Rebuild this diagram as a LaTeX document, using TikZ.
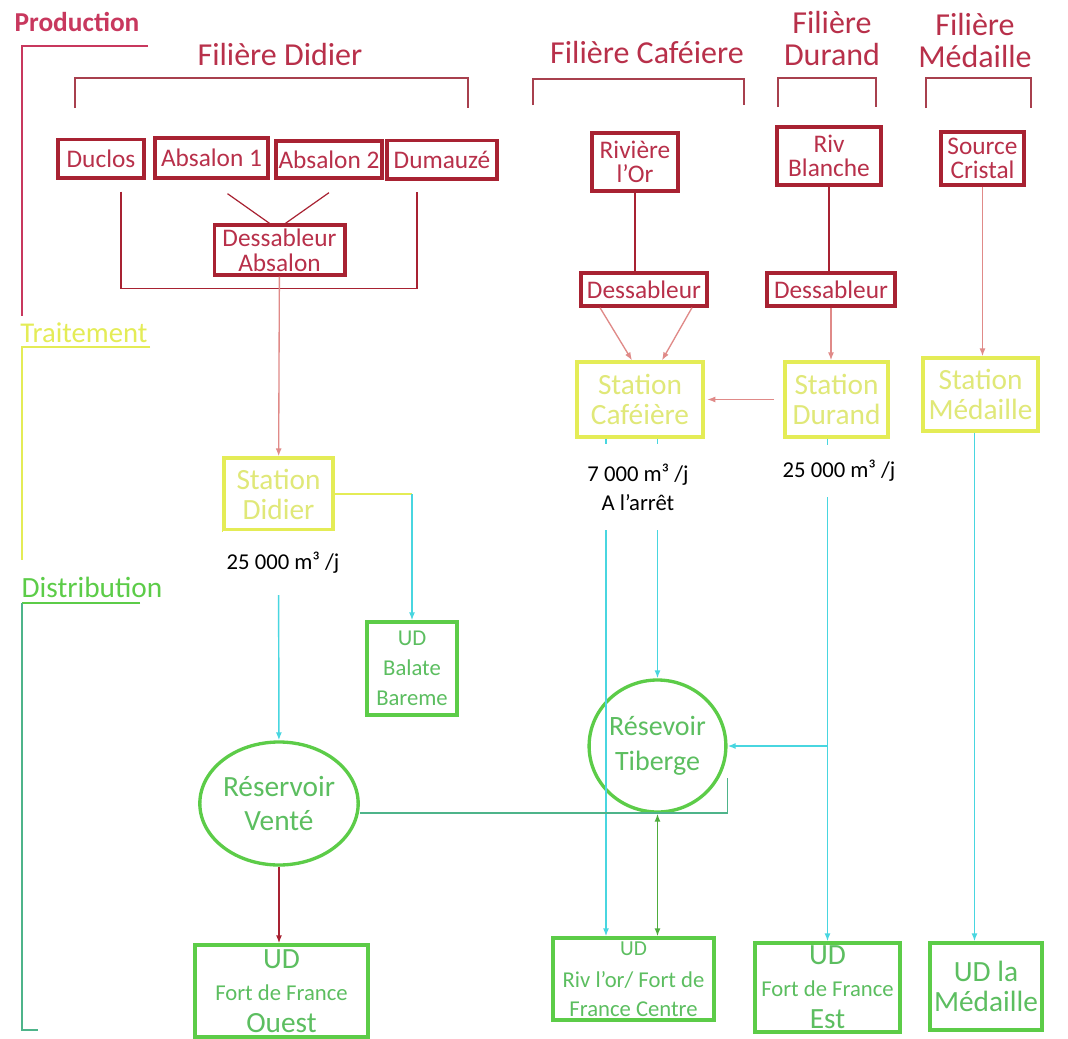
\documentclass[tikz,border=0pt]{standalone}
\usepackage{fontspec}
\setmainfont{Carlito}
\usetikzlibrary{arrows.meta,shapes.geometric}

\definecolor{prodred}{HTML}{A82232}
\definecolor{prodtext}{HTML}{B8304A}
\definecolor{prodaxis}{HTML}{C8385E}
\definecolor{brackred}{HTML}{A8404E}
\definecolor{feedpink}{HTML}{E08A88}
\definecolor{treatyel}{HTML}{E4EC56}
\definecolor{treattext}{HTML}{E0E878}
\definecolor{distgreen}{HTML}{5CCC48}
\definecolor{disttext}{HTML}{5CBE60}
\definecolor{axisteal}{HTML}{4EB48A}
\definecolor{pipecyan}{HTML}{48D6E0}

\begin{document}
\begin{tikzpicture}[x=0.75pt, y=-0.75pt,
  every node/.style={inner sep=0pt, align=center},
  head/.style={text=prodtext, font=\fontsize{24}{19}\selectfont},
  prodbox/.style={draw=prodred, line width=2.5pt, text=prodtext, font=\fontsize{19}{18.5}\selectfont},
  stationbox/.style={draw=treatyel, line width=2.5pt, text=treattext, font=\fontsize{22}{22.5}\selectfont},
  udbox/.style={draw=distgreen, line width=2.5pt, text=disttext, font=\fontsize{22}{24}\selectfont},
  reservoir/.style={ellipse, draw=distgreen, line width=2.5pt, text=disttext, font=\fontsize{22}{25.5}\selectfont},
  rate/.style={fill=white, text=black, inner xsep=3pt, font=\fontsize{17}{21.75}\selectfont},
  bracket/.style={draw=brackred, line width=0.9pt},
  link/.style={draw=prodred, line width=0.9pt},
  feed/.style={draw=feedpink, line width=1pt, -{Latex[length=6pt,width=4.5pt]}},
  pipe/.style={draw=pipecyan, line width=1.1pt, -{Latex[length=6pt,width=4.5pt]}}]

\path[use as bounding box, fill=white] (0,0) rectangle (1068,1039);

\node[text=prodaxis, font=\bfseries\fontsize{20.5}{22}\selectfont] (production) at (77,22) {Production};
\node[text=treatyel, font=\fontsize{21.5}{22}\selectfont] (traitement) at (84,333) {Traitement};
\node[text=distgreen, font=\fontsize{22}{22}\selectfont] (distribution) at (92,587) {Distribution};
\draw[draw=prodaxis, line width=1pt] (148,46) -- (22,46) -- (22,316);
\draw[draw=treatyel, line width=1pt] (150,347) -- (22,347) -- (22,560);
\draw[draw=distgreen, line width=1pt] (140,603) -- (22,603);
\draw[draw=axisteal, line width=1pt] (22,603) -- (22,1030) -- (38,1030);

\node[head] (fdidier) at (280,54) {Filière Didier};
\node[head] (fcafe) at (647,53) {Filière Caféiere};
\node[head] (fdurand) at (832,39) {Filière\\[5pt]Durand};
\node[head] (fmedaille) at (975,41) {Filière\\[5pt]Médaille};
\draw[bracket] (75,108) -- (75,78) -- (468,78) -- (468,108);
\draw[bracket] (533,105) -- (533,79) -- (744,79) -- (744,105);
\draw[bracket] (778,107) -- (778,78) -- (876,78) -- (876,107);
\draw[bracket] (926,108) -- (926,78) -- (1031,78) -- (1031,108);

\node[prodbox, minimum width=64.5pt, minimum height=29pt] (duclos) at (101,158.5) {Duclos};
\node[prodbox, minimum width=84.75pt, minimum height=30pt] (absalonA) at (211.5,158) {Absalon 1};
\node[prodbox, minimum width=79.5pt, minimum height=27.75pt] (absalonB) at (329,159.5) {Absalon 2};
\node[prodbox, minimum width=82.5pt, minimum height=29pt] (dumauze) at (442,159.5) {Dumauzé};
\node[prodbox, minimum width=98pt, minimum height=37.5pt] (dessabs) at (279.5,250) {Dessableur\\Absalon};
\node[prodbox, minimum width=64.5pt, minimum height=43.5pt] (rivor) at (635,162) {Rivière\\l’Or};
\node[prodbox, minimum width=94.5pt, minimum height=24.75pt] (desscafe) at (644,289.5) {Dessableur};
\node[prodbox, minimum width=78pt, minimum height=43.5pt] (rivblanche) at (829,156) {Riv\\Blanche};
\node[prodbox, minimum width=96pt, minimum height=24.75pt] (dessdurand) at (831,289.5) {Dessableur};
\node[prodbox, minimum width=62.25pt, minimum height=39.75pt] (source) at (982.5,158.5) {Source\\Cristal};

\node[stationbox, minimum width=81.75pt, minimum height=54pt] (stdidier) at (278.5,494) {Station\\Didier};
\node[stationbox, minimum width=94.5pt, minimum height=56.25pt] (stcafe) at (640,399.5) {Station\\Caféière};
\node[stationbox, minimum width=77.25pt, minimum height=56.25pt] (stdurand) at (836.5,399.5) {Station\\Durand};
\node[stationbox, minimum width=86.25pt, minimum height=54.75pt] (stmedaille) at (980.5,394.5) {Station\\Médaille};

\node[udbox, minimum width=67.5pt, minimum height=69.75pt, font=\fontsize{17}{22.5}\selectfont] (udbalate) at (412,668.5) {UD\\Balate\\Bareme};
\node[reservoir, minimum width=118.5pt, minimum height=92.25pt] (vente) at (279,803.5) {Réservoir\\Venté};
\node[reservoir, minimum width=93.75pt, minimum height=99pt, font=\fontsize{21}{26}\selectfont] (tiberge) at (657.5,746) {Résevoir\\Tiberge};
\node[udbox, minimum width=129.75pt, minimum height=69pt] (udouest) at (281.5,991) {UD\\{\fontsize{17}{21}\selectfont Fort de France}\\Ouest};
\node[udbox, minimum width=120.75pt, minimum height=61.5pt, font=\fontsize{17}{22}\selectfont] (udriv) at (633.5,979) {{\fontsize{16}{22}\selectfont UD}\\[2pt]Riv l’or/ Fort de\\France Centre};
\node[udbox, minimum width=108.75pt, minimum height=66.75pt] (udest) at (827.5,987.5) {UD\\{\fontsize{17}{21}\selectfont Fort de France}\\Est};
\node[udbox, minimum width=84pt, minimum height=65.25pt, font=\fontsize{22}{22}\selectfont] (udmedaille) at (986,986.5) {UD la\\Médaille};

\draw[link] ([shift={(20,12)}]duclos.south) -- ++(0,97) -| ([shift={(-25,11)}]dumauze.south);
\draw[link] ([shift={(16,14)}]absalonA.south) -- ([xshift=-7.5pt]dessabs.north);
\draw[link] ([shift={(0,13)}]absalonB.south) -- ([xshift=4.5pt]dessabs.north);
\draw[link] (rivor.south) -- (rivor.south |- desscafe.north);
\draw[link] (rivblanche.south) -- (rivblanche.south |- dessdurand.north);

\draw[feed] (dessabs) -- (stdidier);
\draw[feed] ([xshift=-33pt]desscafe.south) -- ([xshift=-6pt]stcafe.north);
\draw[feed] ([xshift=36pt]desscafe.south) -- ([xshift=16.5pt]stcafe.north);
\draw[feed] (dessdurand.south) -- (dessdurand.south |- stdurand.north);
\draw[feed] (source.south) -- (source.south |- stmedaille.north);
\draw[feed, shorten <=7pt, shorten >=2pt] (stdurand.west) -- (stcafe.east);

\coordinate (balate) at (udbalate.north |- stdidier.east);
\draw[draw=treatyel, line width=1.1pt] (stdidier.east) -- (balate);
\draw[pipe] (balate) -- (udbalate.north);
\draw[pipe] (stdidier) -- (vente);
\coordinate (cafeW) at ([xshift=-25.5pt]stcafe.south);
\coordinate (cafeE) at (tiberge.north |- stcafe.south);
\draw[pipe] (cafeW) -- (cafeW |- udriv.north);
\draw[pipe] (cafeE) -- (tiberge.north);
\coordinate (durandS) at (udest.north |- stdurand.south);
\draw[pipe] (durandS) -- (udest.north);
\draw[pipe] (udest.north |- tiberge.east) -- (tiberge.east);
\coordinate (medS) at ([xshift=-4.5pt]stmedaille.south);
\draw[pipe] (medS) -- (medS |- udmedaille.north);

\draw[draw=axisteal, line width=1.1pt] ([yshift=-7pt]vente.east) -| ([yshift=-24pt]tiberge.east);
\draw[draw=distgreen!85!black, line width=1.1pt, {Latex[length=6pt,width=4.5pt]}-{Latex[length=6pt,width=4.5pt]}] (tiberge.south) -- (tiberge.south |- udriv.north);
\draw[draw=prodred, line width=1.1pt, -{Latex[length=6pt,width=4.5pt]}] (vente.south) -- (vente.south |- udouest.north);

\node[rate, minimum height=48pt] (ratedidier) at (283,563) {25 000 m³ /j};
\node[rate, minimum height=64pt] (ratecafe) at (638,487) {7 000 m³ /j\\A l’arrêt};
\node[rate, minimum height=39pt] (ratedurand) at (839,471) {25 000 m³ /j};

\end{tikzpicture}
\end{document}
